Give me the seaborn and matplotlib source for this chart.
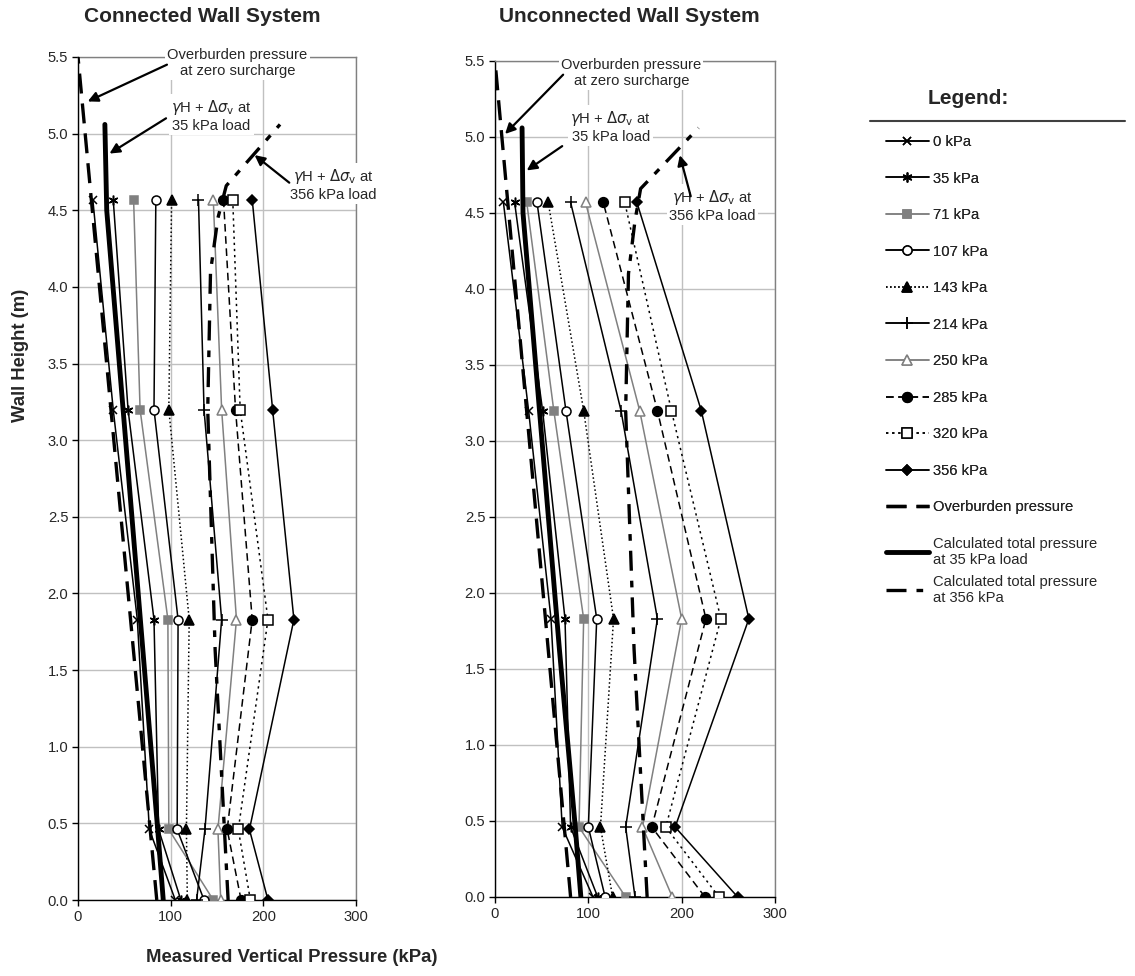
import numpy as np
import matplotlib
matplotlib.use("Agg")
import matplotlib.pyplot as plt
from matplotlib.lines import Line2D
import seaborn as sns

# wall heights (m) where pressure cells sit
heights = [0.0, 0.46, 1.83, 3.2, 4.57]

loads = ["0 kPa", "35 kPa", "71 kPa", "107 kPa", "143 kPa",
         "214 kPa", "250 kPa", "285 kPa", "320 kPa", "356 kPa"]

# measured vertical pressure (kPa), bottom -> top, connected wall
conn_0 = [105, 77, 64, 38, 16]
conn_35 = [111, 87, 82, 54, 38]
conn_71 = [146, 98, 97, 67, 60]
conn_107 = [136, 107, 108, 82, 84]
conn_143 = [118, 117, 120, 98, 101]
conn_214 = [128, 137, 155, 136, 130]
conn_250 = [154, 151, 171, 155, 146]
conn_285 = [176, 161, 188, 170, 157]
conn_320 = [186, 173, 205, 175, 167]
conn_356 = [205, 185, 233, 210, 188]

# unconnected wall
unc_0 = [105, 72, 60, 36, 9]
unc_35 = [110, 81, 75, 51, 21]
unc_71 = [140, 90, 95, 63, 34]
unc_107 = [118, 100, 109, 76, 45]
unc_143 = [126, 113, 127, 95, 57]
unc_214 = [150, 140, 174, 135, 81]
unc_250 = [190, 158, 200, 155, 97]
unc_285 = [225, 168, 226, 174, 116]
unc_320 = [240, 183, 242, 189, 139]
unc_356 = [260, 193, 272, 221, 152]

# overburden and calculated total pressure lines
ob_h = [0.0, 5.5]
conn_ob = [85, 0]
unc_ob = [81, 0]
calc35_h = [0.0, 0.46, 1.63, 4.5, 5.06]
conn_calc35 = [92, 86, 70, 31, 29]
unc_calc35 = [92, 86, 69, 30, 29]
calc356_h = [0.0, 0.46, 1.63, 3.2, 4.1, 4.45, 4.66, 5.06]
conn_calc356 = [162, 158, 148, 140, 143, 151, 160, 218]
unc_calc356 = [163, 159, 149, 140, 143, 150, 156, 218]

gray = "#808080"
styles = [
    dict(color="black", ls="-", marker="x", ms=6, mfc="black", mec="black"),
    dict(color="black", ls="-", marker=(6, 2, 0), ms=7, mfc="black", mec="black"),
    dict(color=gray, ls="-", marker="s", ms=6, mfc=gray, mec=gray),
    dict(color="black", ls="-", marker="o", ms=6.5, mfc="white", mec="black"),
    dict(color="black", ls=":", marker="^", ms=6.5, mfc="black", mec="black"),
    dict(color="black", ls="-", marker="+", ms=8, mfc="black", mec="black"),
    dict(color=gray, ls="-", marker="^", ms=6.5, mfc="white", mec=gray),
    dict(color="black", ls=(0, (5, 3)), marker="o", ms=7, mfc="black", mec="black"),
    dict(color="black", ls=(0, (1.5, 2.5)), marker="s", ms=6.5, mfc="white", mec="black"),
    dict(color="black", ls="-", marker="D", ms=5, mfc="black", mec="black"),
]

sns.set_theme(style="white")
plt.rcParams["font.family"] = ["Liberation Sans", "DejaVu Sans"]

fs = 10.6

fig = plt.figure(figsize=(11.35, 9.76), dpi=100)
ax1 = fig.add_axes([78 / 1135, 76 / 976, 278 / 1135, 843 / 976])
ax2 = fig.add_axes([495 / 1135, 79 / 976, 280 / 1135, 836 / 976])

panels = [
    (ax1, [conn_0, conn_35, conn_71, conn_107, conn_143, conn_214, conn_250,
           conn_285, conn_320, conn_356], conn_ob, conn_calc35, conn_calc356),
    (ax2, [unc_0, unc_35, unc_71, unc_107, unc_143, unc_214, unc_250,
           unc_285, unc_320, unc_356], unc_ob, unc_calc35, unc_calc356),
]

for ax, series, ob, c35, c356 in panels:
    for vals, lab, st in zip(series, loads, styles):
        sns.lineplot(x=vals, y=heights, sort=False, estimator=None, ax=ax,
                     color=st["color"], linestyle=st["ls"], lw=1.1,
                     marker=st["marker"], markersize=st["ms"],
                     markerfacecolor=st["mfc"], markeredgecolor=st["mec"],
                     markeredgewidth=1.1, label=lab, legend=False, zorder=4)
    sns.lineplot(x=ob, y=ob_h, sort=False, estimator=None, ax=ax, color="black",
                 linestyle=(0, (6, 3)), lw=2.4, label="Overburden pressure",
                 legend=False, zorder=4)
    sns.lineplot(x=c35, y=calc35_h, sort=False, estimator=None, ax=ax,
                 color="black", linestyle="-", lw=3.5,
                 label="Calculated total pressure\nat 35 kPa load",
                 legend=False, zorder=4)
    sns.lineplot(x=c356, y=calc356_h, sort=False, estimator=None, ax=ax,
                 color="black", linestyle=(0, (6, 3, 2, 3)), lw=2.4,
                 label="Calculated total pressure\nat 356 kPa",
                 legend=False, zorder=4)

    ax.set_xlim(0, 300)
    ax.set_ylim(0, 5.5)
    ax.set_xticks([0, 100, 200, 300])
    ax.set_yticks(np.arange(0, 5.51, 0.5))
    ax.set_yticklabels([f"{v:.1f}" for v in np.arange(0, 5.51, 0.5)])
    ax.grid(True, color="#c0c0c0", lw=1)
    ax.set_axisbelow(True)
    ax.set_xlabel("")
    ax.set_ylabel("")
    ax.tick_params(axis="both", labelsize=fs, direction="out", length=4,
                   width=1, color="black", left=True, bottom=True, pad=3)
    for side in ["top", "right"]:
        ax.spines[side].set_color(gray)
        ax.spines[side].set_linewidth(1)
    for side in ["left", "bottom"]:
        ax.spines[side].set_color("black")
        ax.spines[side].set_linewidth(1)

box = dict(facecolor="white", edgecolor="none", pad=1.5)
arrow = dict(arrowstyle="-|>", color="black", lw=1.6, mutation_scale=15,
             shrinkA=0, shrinkB=0)

# annotations, connected wall
ax1.annotate("", xy=(10.5, 5.21), xytext=(96, 5.45), arrowprops=arrow, zorder=6)
ax1.text(172, 5.46, "Overburden pressure\nat zero surcharge", ha="center",
         va="center", fontsize=fs, bbox=box, zorder=5, clip_on=False)
ax1.annotate("", xy=(34, 4.87), xytext=(95, 5.1), arrowprops=arrow, zorder=6)
ax1.text(144, 5.12, "$\\gamma$H + $\\Delta\\sigma_{\\rm v}$ at\n35 kPa load",
         ha="center", va="center", fontsize=fs, bbox=box, zorder=5)
ax1.annotate("", xy=(190.6, 4.86), xytext=(228, 4.68), arrowprops=arrow, zorder=6)
ax1.text(275, 4.67, "$\\gamma$H + $\\Delta\\sigma_{\\rm v}$ at\n356 kPa load",
         ha="center", va="center", fontsize=fs, bbox=box, zorder=5,
         clip_on=False)

# annotations, unconnected wall
ax2.annotate("", xy=(10.8, 5.02), xytext=(73, 5.41), arrowprops=arrow, zorder=6)
ax2.text(146, 5.42, "Overburden pressure\nat zero surcharge", ha="center",
         va="center", fontsize=fs, bbox=box, zorder=5, clip_on=False)
ax2.annotate("", xy=(34, 4.78), xytext=(72, 4.94), arrowprops=arrow, zorder=6)
ax2.text(124, 5.07, "$\\gamma$H + $\\Delta\\sigma_{\\rm v}$ at\n35 kPa load",
         ha="center", va="center", fontsize=fs, bbox=box, zorder=5)
ax2.text(233, 4.55, "$\\gamma$H + $\\Delta\\sigma_{\\rm v}$ at\n356 kPa load",
         ha="center", va="center", fontsize=fs, bbox=box, zorder=5)
ax2.annotate("", xy=(198, 4.88), xytext=(209.7, 4.61), arrowprops=arrow, zorder=6)

fig.text(202 / 1135, 1 - 17 / 976, "Connected Wall System", ha="center",
         va="center", fontsize=15, fontweight="bold")
fig.text(629 / 1135, 1 - 17 / 976, "Unconnected Wall System", ha="center",
         va="center", fontsize=15, fontweight="bold")
fig.text(21 / 1135, 1 - 355 / 976, "Wall Height (m)", rotation=90, ha="center",
         va="center", fontsize=13.3, fontweight="bold")
fig.text(292 / 1135, 1 - 958 / 976, "Measured Vertical Pressure (kPa)",
         ha="center", va="center", fontsize=13.3, fontweight="bold")

# legend panel
fig.text(968 / 1135, 1 - 98 / 976, "Legend:", ha="center", va="center",
         fontsize=15, fontweight="bold")
fig.add_artist(Line2D([870 / 1135, 1125 / 1135], [1 - 121 / 976, 1 - 121 / 976],
                      color="#404040", lw=1.5))
handles = ax1.get_lines()
labels = [h.get_label() for h in handles]
leg1 = fig.legend(handles[:11], labels[:11], loc="upper left",
                  bbox_to_anchor=(886 / 1135, 1 - 135 / 976), frameon=False,
                  fontsize=fs, handlelength=2.9, handletextpad=0.3,
                  labelspacing=1.53, borderaxespad=0, borderpad=0)
leg2 = fig.legend(handles[11:], labels[11:], loc="upper left",
                  bbox_to_anchor=(886 / 1135, 1 - 537 / 976), frameon=False,
                  fontsize=fs, handlelength=2.9, handletextpad=0.3,
                  labelspacing=0.52, borderaxespad=0, borderpad=0)
fig.add_artist(leg1)

fig.savefig("out.png", dpi=100)
